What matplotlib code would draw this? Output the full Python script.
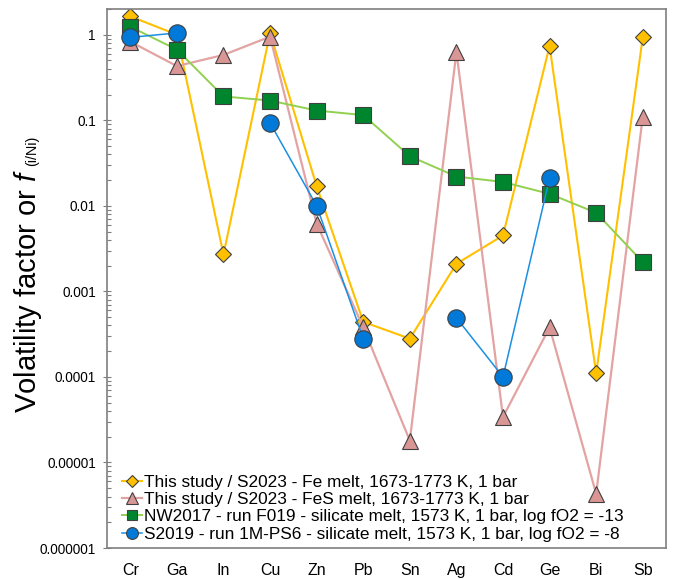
import numpy as np
import matplotlib.pyplot as plt
from matplotlib.ticker import FixedLocator, LogLocator, NullFormatter

plt.rcParams["font.family"] = ["Liberation Sans", "DejaVu Sans"]
plt.rcParams["mathtext.fontset"] = "custom"
plt.rcParams["mathtext.rm"] = "Liberation Sans"
plt.rcParams["mathtext.it"] = "Liberation Sans:italic"

elements = ["Cr", "Ga", "In", "Cu", "Zn", "Pb", "Sn", "Ag", "Cd", "Ge", "Bi", "Sb"]

fe_melt = [1.64, 1.0, 0.0027, 1.05, 0.017, 0.00044, 0.00028, 0.0021, 0.0045, 0.74, 0.00011, 0.93]
fes_melt = [0.83, 0.43, 0.58, 0.95, 0.0062, 0.00038, 0.000018, 0.63, 0.000034, 0.00038, 0.0000043, 0.11]
nw2017 = [1.24, 0.67, 0.19, 0.17, 0.13, 0.115, 0.038, 0.022, 0.019, 0.0138, 0.0083, 0.0022]
s2019 = [0.93, 1.05, np.nan, 0.093, 0.010, 0.00028, np.nan, 0.00049, 0.0001, 0.021, np.nan, np.nan]

labels = [
    "This study / S2023 - Fe melt, 1673-1773 K, 1 bar",
    "This study / S2023 - FeS melt, 1673-1773 K, 1 bar",
    "NW2017 - run F019 - silicate melt, 1573 K, 1 bar, log fO2 = -13",
    "S2019 - run 1M-PS6 - silicate melt, 1573 K, 1 bar, log fO2 = -8",
]
ytick_vals = [1, 0.1, 0.01, 0.001, 0.0001, 0.00001, 0.000001]
ytick_labels = ["1", "0.1", "0.01", "0.001", "0.0001", "0.00001", "0.000001"]

fig = plt.figure(figsize=(6.74, 5.79), dpi=100)
ax = fig.add_axes([0.1588, 0.0535, 0.8294, 0.931])
x = np.arange(len(elements))
edge = "#404040"

ax.plot(x, fe_melt, color="#FFC000", lw=1.5, marker="D", ms=8.5,
        mfc="#FFC000", mec=edge, mew=0.8, label=labels[0])
ax.plot(x, fes_melt, color="#E3A3A3", lw=1.6, marker="^", ms=12,
        mfc="#D99694", mec=edge, mew=0.8, label=labels[1])
ax.plot(x, nw2017, color="#92D050", lw=1.4, marker="s", ms=11.5,
        mfc="#00852F", mec=edge, mew=0.8, label=labels[2])
ax.plot(x, s2019, color="#1A8FE3", lw=1.1, marker="o", ms=12.5,
        mfc="#0079D9", mec=edge, mew=0.8, label=labels[3])

ax.set_yscale("log")
ax.set_ylim(1e-6, 2.0)
ax.set_xlim(-0.5, len(elements) - 0.5)
ax.yaxis.set_major_locator(FixedLocator(ytick_vals))
ax.set_yticklabels(ytick_labels)
ax.yaxis.set_minor_locator(LogLocator(base=10, subs=np.arange(2, 10), numticks=20))
ax.yaxis.set_minor_formatter(NullFormatter())
ax.set_xticks(x)
ax.set_xticklabels(elements)

ax.tick_params(axis="y", which="major", direction="inout", length=6, width=0.8,
               color="#7F7F7F", labelsize=9.8, pad=5)
ax.tick_params(axis="y", which="minor", direction="in", length=3, width=0.8, color="#7F7F7F")
ax.tick_params(axis="x", length=0, labelsize=11.5, pad=11)
for s in ax.spines.values():
    s.set_color("#7F7F7F")
    s.set_linewidth(1.2)

# y label: big text plus small "(i/Ni)" after the italic f, same baseline
ylab = fig.text(36 / 674, 1 - 413 / 579, r"Volatility factor or $\mathit{f}$",
                fontsize=21, rotation=90, rotation_mode="anchor", ha="left", va="baseline")
ax.annotate("(i/Ni)", xy=(36, 1.0), xycoords=("figure pixels", ylab), xytext=(0, 2),
            textcoords="offset points", fontsize=10.3, rotation=90,
            rotation_mode="anchor", ha="left", va="baseline")

ax.legend(loc="lower left", bbox_to_anchor=(0.027, 0.012), frameon=False, fontsize=12.4,
          handlelength=1.15, handletextpad=0.12, labelspacing=0.12, borderpad=0,
          borderaxespad=0, markerscale=0.68)

fig.savefig("out.png", dpi=100)
